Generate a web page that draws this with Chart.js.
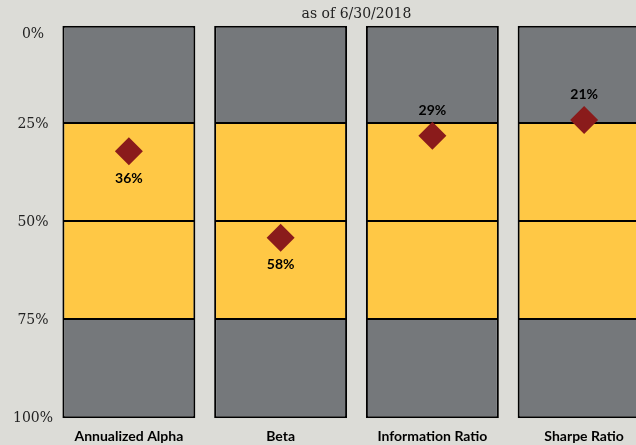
<!DOCTYPE html>
<html>
<head>
<meta charset="utf-8">
<script src="https://cdn.jsdelivr.net/npm/chart.js@4.4.0/dist/chart.umd.min.js"></script>
<style>
    html, body {
        margin: 0;
        padding: 0;
        overflow: hidden;
        background: #dcdcd7;
    }
    canvas {
        display: block;
    }
</style>
</head>
<body>
<canvas id="rankChart" width="660" height="457"></canvas>
<script>
// Dữ liệu biểu đồ
const categories = ['Annualized Alpha', 'Beta', 'Information Ratio', 'Sharpe Ratio'];
const quartileSizes = [25, 25, 25, 25];          // 4 khoảng phân vị
const quartileColors = ['#75787b', '#ffc845', '#ffc845', '#75787b'];
const markerPos = [32, 54, 28, 24];               // vị trí hình thoi trên trục
const rankLabels = ['36%', '58%', '29%', '21%'];  // nhãn hiển thị
const labelSide = ['below', 'below', 'above', 'above'];
const yTicks = [0, 25, 50, 75, 100];

// Các dataset dạng cột chồng cho từng khoảng
const bandDatasets = quartileSizes.map((size, i) => ({
    type: 'bar',
    label: 'Q' + (i + 1),
    data: categories.map(() => size),
    backgroundColor: quartileColors[i],
    borderColor: '#000000',
    borderWidth: 2,
    borderSkipped: i === 0 ? false : 'start', // bỏ cạnh chung để đường kẻ không bị dày gấp đôi
    barPercentage: 0.876,
    categoryPercentage: 1,
    order: 1
}));

// Plugin vẽ nhãn phần trăm cạnh hình thoi
const rankLabelPlugin = {
    id: 'rankLabels',
    afterDatasetsDraw(chart) {
        const ctx = chart.ctx;
        const meta = chart.getDatasetMeta(chart.data.datasets.length - 1);
        ctx.save();
        ctx.font = 'bold 14px Lato, "Open Sans", sans-serif';
        ctx.fillStyle = '#000000';
        ctx.textAlign = 'center';
        ctx.textBaseline = 'middle';
        meta.data.forEach((pt, i) => {
            const dy = labelSide[i] === 'below' ? 27 : -25;
            ctx.fillText(rankLabels[i], pt.x, pt.y + dy);
        });
        ctx.restore();
    }
};

const ctx = document.getElementById('rankChart').getContext('2d');
const rankChart = new Chart(ctx, {
    data: {
        labels: categories,
        datasets: [
            ...bandDatasets,
            {
                type: 'line',
                label: 'Rank',
                data: markerPos,
                showLine: false,
                stack: 'marker',
                pointStyle: 'rectRot',
                pointRadius: 14,
                pointBorderWidth: 0,
                backgroundColor: '#8a1b1b',
                borderColor: '#8a1b1b',
                order: -1
            }
        ]
    },
    options: {
        responsive: false,
        animation: false,
        devicePixelRatio: 1,
        layout: {
            autoPadding: false,
            padding: { left: 0, right: 0, top: 0, bottom: 2 }
        },
        plugins: {
            legend: { display: false },
            tooltip: { enabled: false },
            title: { display: false },
            subtitle: {
                display: true,
                fullSize: false, // căn giữa theo vùng vẽ
                text: 'as of 6/30/2018',
                color: '#222222',
                font: { family: '"DejaVu Serif", serif', size: 14, weight: 'normal' },
                padding: { top: 6, bottom: 3 }
            }
        },
        scales: {
            x: {
                stacked: true,
                grid: { display: false, drawTicks: false },
                border: { display: false },
                ticks: {
                    color: '#000000',
                    padding: 10,
                    font: { family: 'Lato, "Open Sans", sans-serif', size: 14, weight: 'bold' }
                }
            },
            y: {
                stacked: true,
                reverse: true,
                min: 0,
                max: 100,
                afterFit(scale) {
                    scale.width = 53;
                },
                afterBuildTicks(scale) {
                    scale.ticks = yTicks.map(v => ({ value: v }));
                },
                grid: { display: false, drawTicks: false },
                border: { display: false },
                ticks: {
                    color: '#222222',
                    crossAlign: 'center',
                    padding: 0,
                    font: { family: '"DejaVu Serif", serif', size: 14 },
                    // nhãn 0% nằm thấp hơn đường kẻ một chút như bản gốc
                    callback: (value) => value === 0 ? ['', '0%'] : value + '%'
                }
            }
        }
    },
    plugins: [rankLabelPlugin]
});
</script>
</body>
</html>
